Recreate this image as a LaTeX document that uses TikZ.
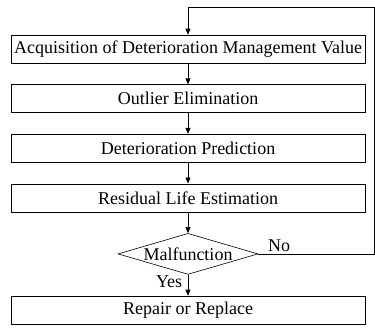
\documentclass[tikz,border=0pt]{standalone}
\usepackage{fontspec}
\setmainfont{Liberation Serif}
\usetikzlibrary{shapes.geometric, arrows.meta, positioning}
\tikzset{
  box/.style = {rectangle, draw, line width=0.6pt, minimum width=354pt,
                minimum height=28pt, inner sep=0pt, font=\fontsize{18}{21}\selectfont},
  dec/.style = {diamond, draw, line width=0.6pt, aspect=3.4, minimum width=140pt,
                minimum height=41pt, inner sep=-6pt, font=\fontsize{18}{21}\selectfont},
  arr/.style = {-{Triangle[length=6pt, width=5pt]}, line width=0.6pt},
  lbl/.style = {font=\fontsize{18}{21}\selectfont, inner sep=1.5pt},
}
\begin{document}
\begin{tikzpicture}[node distance=21pt]
\useasboundingbox (0,0) rectangle (375pt,-327pt);

% ---- Process chain ----------------------------------------------------------
\node[box] (acq) at (188pt,-49pt) {Acquisition of Deterioration Management Value};
\node[box, below=of acq] (outl) {Outlier Elimination};
\node[box, below=of outl] (pred) {Deterioration Prediction};
\node[box, below=of pred] (life) {Residual Life Estimation};
\node[dec, below=of life] (malf) {Malfunction};
\node[box, below=of malf] (rep) {Repair or Replace};

% ---- Arrows -----------------------------------------------------------------
\draw[arr] (acq) -- (outl);
\draw[arr] (outl) -- (pred);
\draw[arr] (pred) -- (life);
\draw[arr] (life) -- (malf);
\draw[arr] (malf) -- node[lbl, left, pos=0.35, xshift=-4pt]{Yes} (rep);

% ---- Feedback loop ----------------------------------------------------------
\coordinate (loop) at (374.5pt,-7pt);
\draw[line width=0.6pt] (malf.east) -| node[lbl, pos=0.09, above]{No} (loop);
\draw[arr] (loop) -| (acq.north);

\end{tikzpicture}
\end{document}
